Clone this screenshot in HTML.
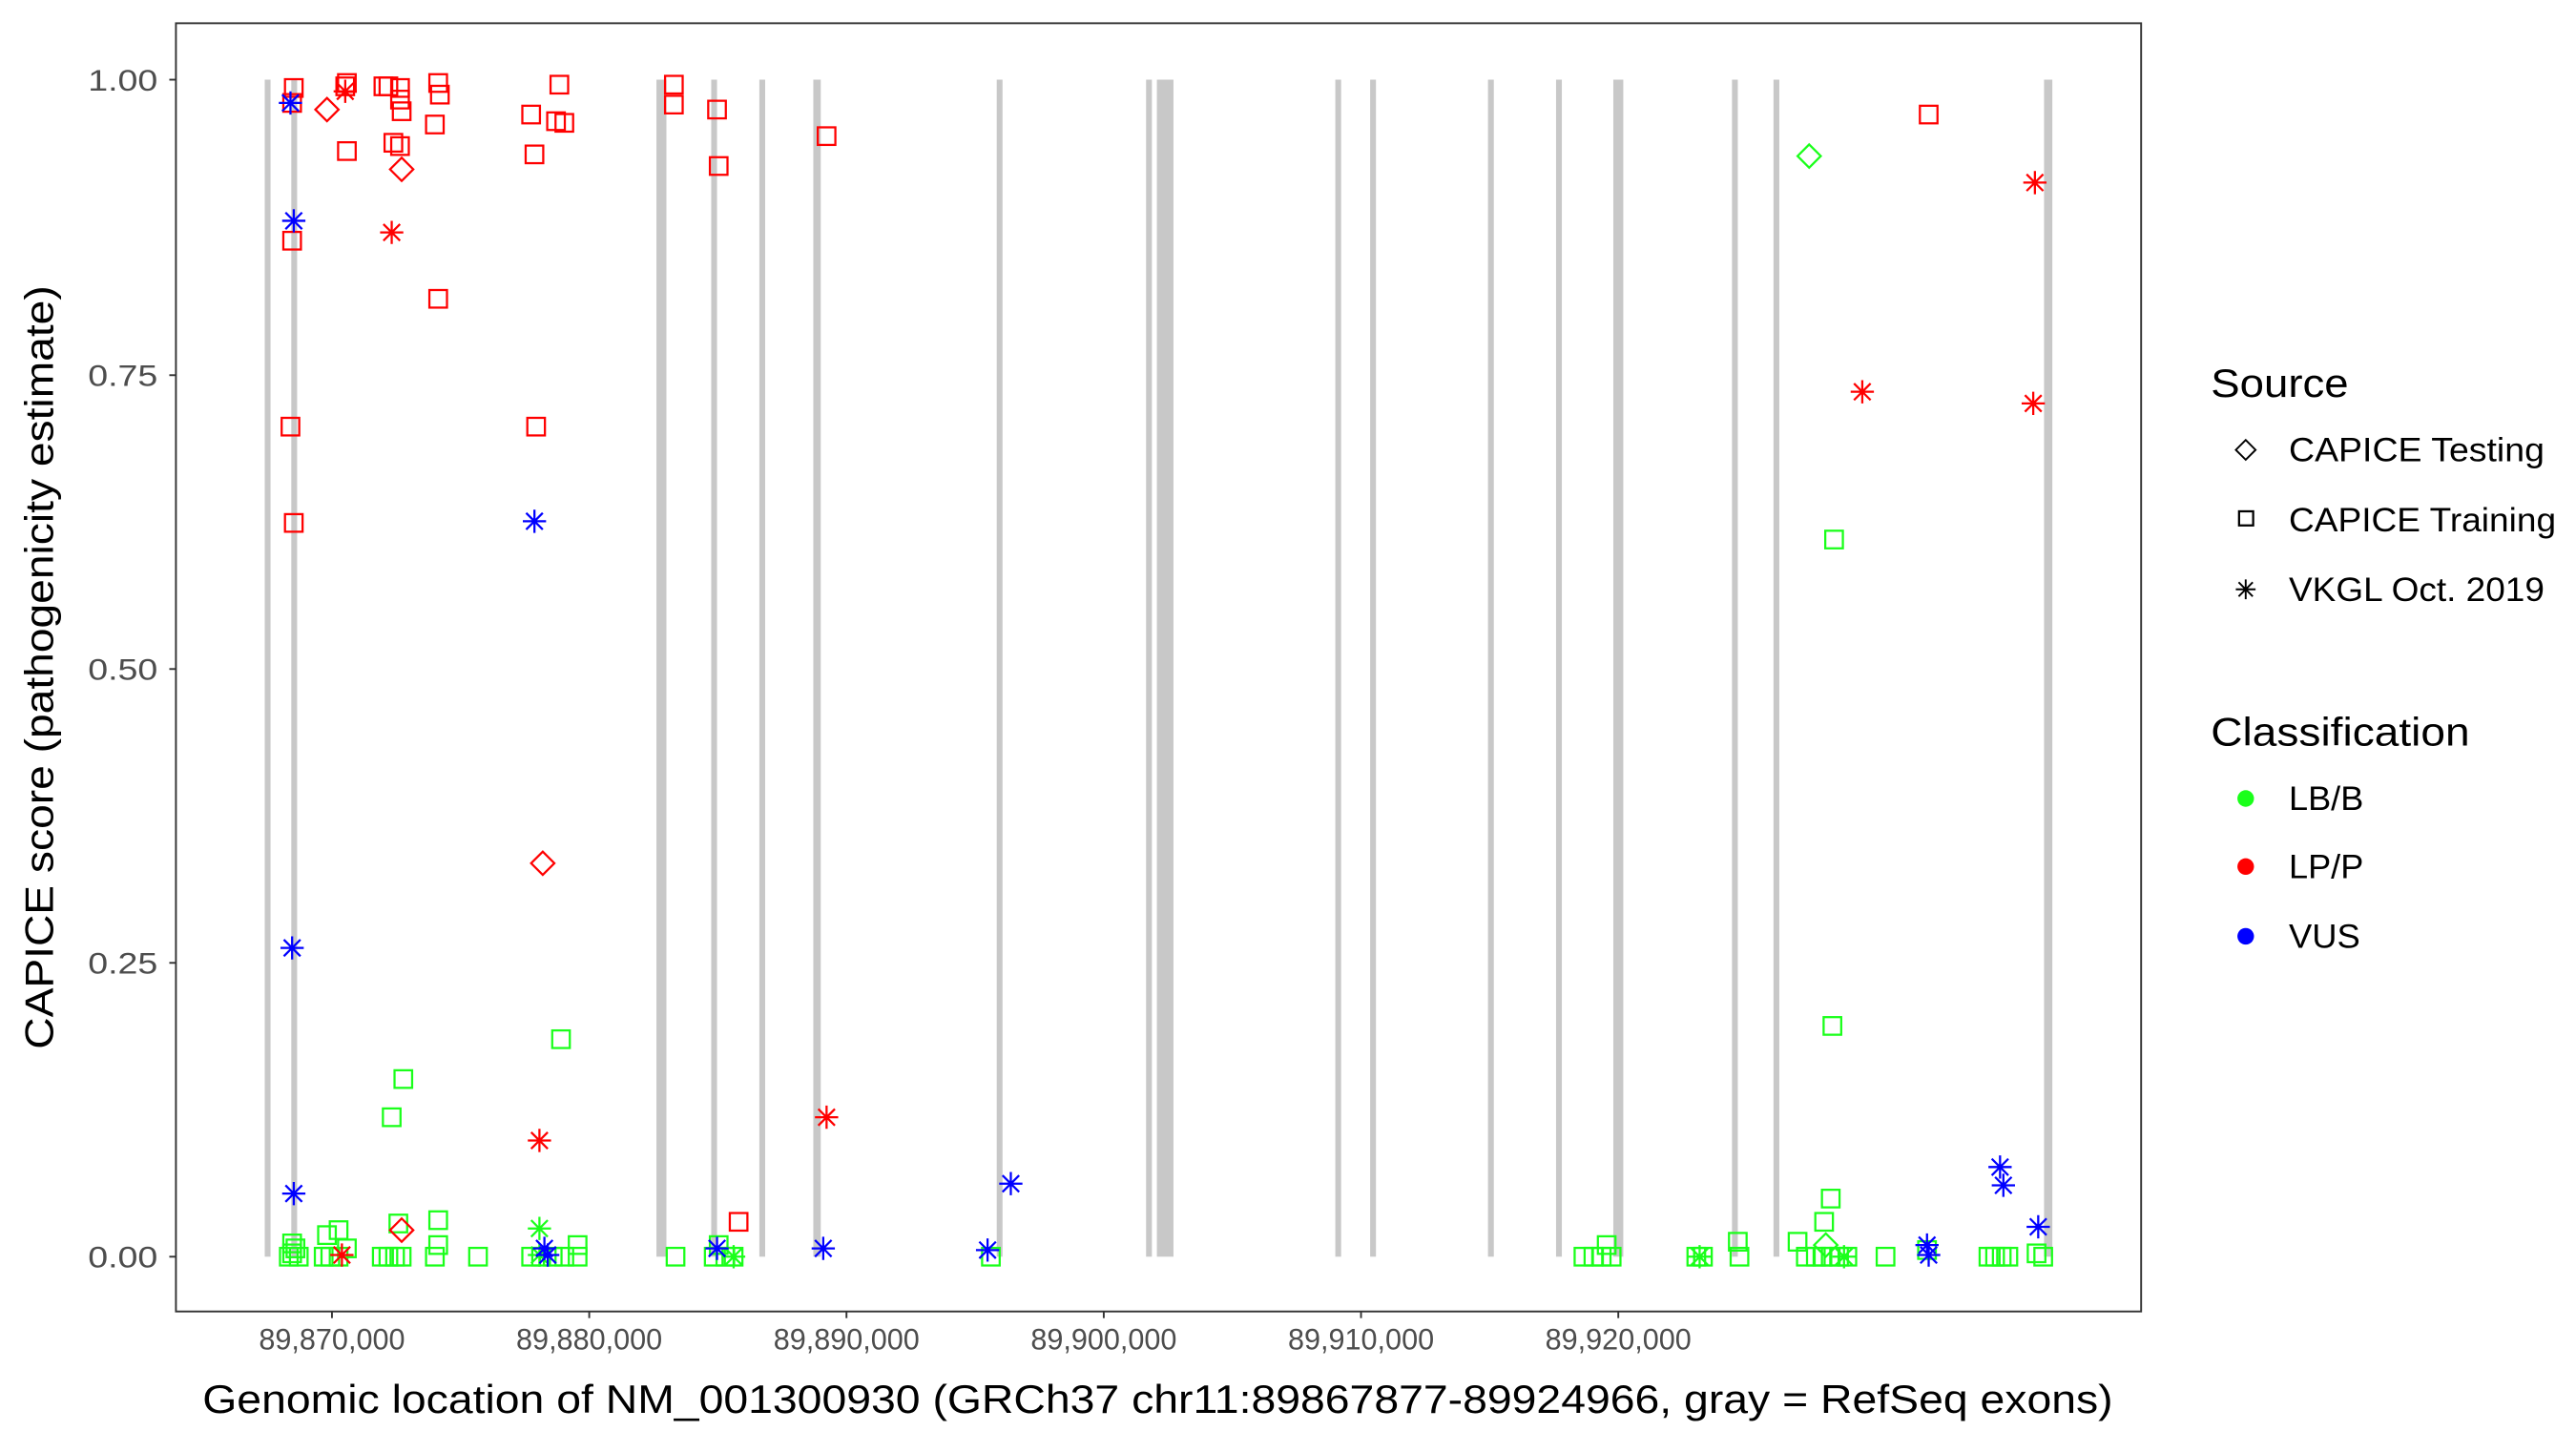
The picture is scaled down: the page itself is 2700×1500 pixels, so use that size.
<!DOCTYPE html>
<html><head><meta charset="utf-8"><style>
html,body{margin:0;padding:0;background:#fff;}
svg{display:block;}
text{font-family:"Liberation Sans",sans-serif;}
</style></head><body>
<svg width="2700" height="1500" viewBox="0 0 1552 862" preserveAspectRatio="none" xmlns="http://www.w3.org/2000/svg">
<defs>
<g id="s"><rect x="-5.3" y="-5.3" width="10.6" height="10.6" fill="none" stroke-width="1.3"/></g>
<g id="d"><path d="M0,-7L7,0L0,7L-7,0Z" fill="none" stroke-width="1.3"/></g>
<g id="a" stroke-width="1.3"><path d="M0,-7V7M-7,0H7M-5,-5L5,5M-5,5L5,-5" fill="none"/></g>
</defs>
<rect x="0" y="0" width="1552" height="862" fill="#fff"/>
<g fill="#c8c8c8">
<rect x="159.5" y="48" width="3.5" height="709"/>
<rect x="175.5" y="48" width="3.5" height="709"/>
<rect x="395.5" y="48" width="6" height="709"/>
<rect x="428.5" y="48" width="3.5" height="709"/>
<rect x="457.5" y="48" width="3.5" height="709"/>
<rect x="490" y="48" width="4.5" height="709"/>
<rect x="600.5" y="48" width="3.5" height="709"/>
<rect x="690.5" y="48" width="3.5" height="709"/>
<rect x="697" y="48" width="10" height="709"/>
<rect x="804.5" y="48" width="3.5" height="709"/>
<rect x="825.5" y="48" width="3.5" height="709"/>
<rect x="896.5" y="48" width="3.5" height="709"/>
<rect x="937.5" y="48" width="3.5" height="709"/>
<rect x="972" y="48" width="6" height="709"/>
<rect x="1043.5" y="48" width="3.5" height="709"/>
<rect x="1068.5" y="48" width="3.5" height="709"/>
<rect x="1231.5" y="48" width="5" height="709"/>
</g>
<g stroke="#1aff1a">
<use href="#s" x="174" y="757"/><use href="#s" x="176" y="755"/><use href="#s" x="178" y="752"/><use href="#s" x="180" y="757"/><use href="#s" x="176" y="749"/>
<use href="#s" x="195" y="757"/><use href="#s" x="199" y="757"/><use href="#s" x="197" y="744"/><use href="#s" x="204" y="741"/><use href="#s" x="204" y="757"/><use href="#s" x="209" y="752"/>
<use href="#s" x="230" y="757"/><use href="#s" x="234" y="757"/><use href="#s" x="238" y="757"/><use href="#s" x="242" y="757"/><use href="#s" x="240" y="737"/><use href="#s" x="243" y="650"/><use href="#s" x="236" y="673"/>
<use href="#s" x="262" y="757"/><use href="#s" x="264" y="750"/><use href="#s" x="264" y="735"/><use href="#s" x="288" y="757"/>
<use href="#s" x="320" y="757"/><use href="#s" x="326" y="757"/><use href="#s" x="333" y="757"/><use href="#s" x="340" y="757"/><use href="#s" x="348" y="757"/><use href="#s" x="348" y="750"/><use href="#s" x="338" y="626"/>
<use href="#s" x="407" y="757"/><use href="#s" x="430" y="757"/><use href="#s" x="433" y="750"/><use href="#s" x="437" y="757"/><use href="#s" x="442" y="757"/><use href="#s" x="597" y="757"/>
<use href="#s" x="954" y="757"/><use href="#s" x="960" y="757"/><use href="#s" x="965" y="757"/><use href="#s" x="968" y="750"/><use href="#s" x="971" y="757"/>
<use href="#s" x="1022" y="757"/><use href="#s" x="1026" y="757"/><use href="#s" x="1048" y="757"/><use href="#s" x="1047" y="748"/>
<use href="#s" x="1083" y="748"/><use href="#s" x="1088" y="757"/><use href="#s" x="1094" y="757"/><use href="#s" x="1098" y="757"/><use href="#s" x="1103" y="757"/><use href="#s" x="1108" y="757"/><use href="#s" x="1113" y="757"/><use href="#s" x="1099" y="736"/><use href="#s" x="1103" y="722"/><use href="#s" x="1104" y="618"/><use href="#s" x="1105" y="325"/>
<use href="#s" x="1136" y="757"/><use href="#s" x="1161" y="753"/>
<use href="#s" x="1198" y="757"/><use href="#s" x="1202" y="757"/><use href="#s" x="1206" y="757"/><use href="#s" x="1210" y="757"/><use href="#s" x="1227" y="755"/><use href="#s" x="1231" y="757"/>
<use href="#d" x="1090" y="94"/><use href="#d" x="1100" y="750"/>
<use href="#a" x="325" y="740"/><use href="#a" x="325" y="756"/><use href="#a" x="442" y="757"/><use href="#a" x="1024" y="757"/><use href="#a" x="1111" y="757"/>
</g>
<g stroke="#ff0000">
<use href="#s" x="177" y="53"/><use href="#s" x="176" y="62"/><use href="#s" x="208" y="52"/><use href="#s" x="209" y="50"/><use href="#s" x="231" y="52"/><use href="#s" x="234" y="52"/><use href="#s" x="241" y="53"/><use href="#s" x="241" y="60"/><use href="#s" x="242" y="67"/><use href="#s" x="209" y="91"/><use href="#s" x="237" y="86"/><use href="#s" x="241" y="88"/>
<use href="#s" x="264" y="50"/><use href="#s" x="265" y="57"/><use href="#s" x="262" y="75"/><use href="#s" x="264" y="180"/><use href="#s" x="320" y="69"/><use href="#s" x="322" y="93"/><use href="#s" x="335" y="73"/><use href="#s" x="340" y="74"/><use href="#s" x="337" y="51"/>
<use href="#s" x="406" y="51"/><use href="#s" x="406" y="63"/><use href="#s" x="432" y="66"/><use href="#s" x="433" y="100"/><use href="#s" x="498" y="82"/><use href="#s" x="176" y="145"/><use href="#s" x="175" y="257"/><use href="#s" x="177" y="315"/><use href="#s" x="323" y="257"/><use href="#s" x="445" y="736"/><use href="#s" x="1162" y="69"/>
<use href="#d" x="197" y="66"/><use href="#d" x="242" y="102"/><use href="#d" x="242" y="741"/><use href="#d" x="327" y="520"/>
<use href="#a" x="236" y="140"/><use href="#a" x="208" y="55"/><use href="#a" x="206" y="756"/><use href="#a" x="325" y="687"/><use href="#a" x="498" y="673"/><use href="#a" x="1122" y="236"/><use href="#a" x="1226" y="110"/><use href="#a" x="1225" y="243"/>
</g>
<g stroke="#0000ff">
<use href="#a" x="175" y="62"/><use href="#a" x="177" y="133"/><use href="#a" x="176" y="571"/><use href="#a" x="177" y="719"/><use href="#a" x="322" y="314"/><use href="#a" x="328" y="752"/><use href="#a" x="330" y="756"/><use href="#a" x="432" y="752"/><use href="#a" x="496" y="752"/><use href="#a" x="595" y="753"/><use href="#a" x="609" y="713"/><use href="#a" x="1161" y="750"/><use href="#a" x="1162" y="756"/><use href="#a" x="1205" y="703"/><use href="#a" x="1207" y="714"/><use href="#a" x="1228" y="739"/>
</g>
<rect x="106" y="14" width="1184" height="776" fill="none" stroke="#333" stroke-width="1.1"/>
<g stroke="#333" stroke-width="1.1">
<line x1="102" y1="48" x2="106" y2="48"/><line x1="102" y1="226" x2="106" y2="226"/><line x1="102" y1="403" x2="106" y2="403"/><line x1="102" y1="580" x2="106" y2="580"/><line x1="102" y1="757" x2="106" y2="757"/>
<line x1="200" y1="790" x2="200" y2="794"/><line x1="355" y1="790" x2="355" y2="794"/><line x1="510" y1="790" x2="510" y2="794"/><line x1="665" y1="790" x2="665" y2="794"/><line x1="820" y1="790" x2="820" y2="794"/><line x1="975" y1="790" x2="975" y2="794"/>
</g>
<g fill="#4d4d4d" font-size="18" text-anchor="end">
<text x="95" y="54.5" textLength="42" lengthAdjust="spacingAndGlyphs">1.00</text><text x="95" y="232.5" textLength="42" lengthAdjust="spacingAndGlyphs">0.75</text><text x="95" y="409.5" textLength="42" lengthAdjust="spacingAndGlyphs">0.50</text><text x="95" y="586.5" textLength="42" lengthAdjust="spacingAndGlyphs">0.25</text><text x="95" y="763.5" textLength="42" lengthAdjust="spacingAndGlyphs">0.00</text>
</g>
<g fill="#4d4d4d" font-size="18">
<text x="156" y="813" textLength="88" lengthAdjust="spacingAndGlyphs">89,870,000</text><text x="311" y="813" textLength="88" lengthAdjust="spacingAndGlyphs">89,880,000</text><text x="466" y="813" textLength="88" lengthAdjust="spacingAndGlyphs">89,890,000</text><text x="621" y="813" textLength="88" lengthAdjust="spacingAndGlyphs">89,900,000</text><text x="776" y="813" textLength="88" lengthAdjust="spacingAndGlyphs">89,910,000</text><text x="931" y="813" textLength="88" lengthAdjust="spacingAndGlyphs">89,920,000</text>
</g>
<text x="122" y="851" font-size="24" fill="#000" textLength="1151" lengthAdjust="spacingAndGlyphs">Genomic location of NM_001300930 (GRCh37 chr11:89867877-89924966, gray = RefSeq exons)</text>
<text transform="translate(32,632) rotate(-90)" font-size="24" fill="#000" textLength="460" lengthAdjust="spacingAndGlyphs">CAPICE score (pathogenicity estimate)</text>
<text x="1332" y="239" font-size="24" fill="#000" textLength="83" lengthAdjust="spacingAndGlyphs">Source</text>
<g stroke="#000"><use href="#d" transform="translate(1353,271) scale(0.85)"/><rect x="1349" y="308" width="8.5" height="8.5" fill="none" stroke-width="1.3"/><use href="#a" transform="translate(1353,355) scale(0.85)"/></g>
<g font-size="20" fill="#000"><text x="1379" y="278" textLength="154" lengthAdjust="spacingAndGlyphs">CAPICE Testing</text><text x="1379" y="320" textLength="161" lengthAdjust="spacingAndGlyphs">CAPICE Training</text><text x="1379" y="362" textLength="154" lengthAdjust="spacingAndGlyphs">VKGL Oct. 2019</text></g>
<text x="1332" y="449" font-size="24" fill="#000" textLength="156" lengthAdjust="spacingAndGlyphs">Classification</text>
<circle cx="1353" cy="481" r="5" fill="#1aff1a"/><circle cx="1353" cy="522" r="5" fill="#ff0000"/><circle cx="1353" cy="564" r="5" fill="#0000ff"/>
<g font-size="20" fill="#000"><text x="1379" y="488" textLength="45" lengthAdjust="spacingAndGlyphs">LB/B</text><text x="1379" y="529" textLength="45" lengthAdjust="spacingAndGlyphs">LP/P</text><text x="1379" y="571" textLength="43" lengthAdjust="spacingAndGlyphs">VUS</text></g>
</svg>
</body></html>
